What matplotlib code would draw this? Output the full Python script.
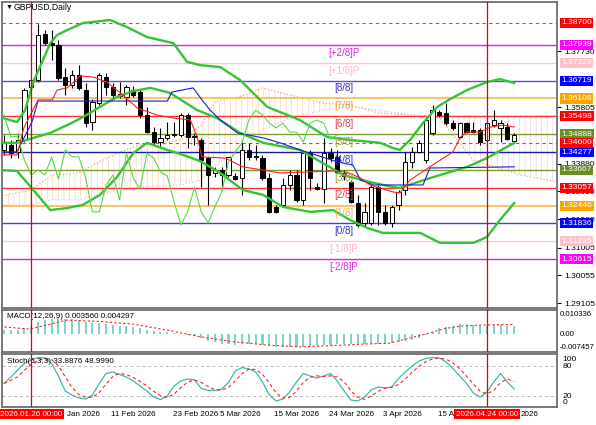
import numpy as np
import pandas as pd
import matplotlib
matplotlib.use('Agg')
import matplotlib.pyplot as plt

plt.rcParams['font.family'] = ['Liberation Sans', 'DejaVu Sans']
plt.rcParams['hatch.linewidth'] = 0.5

# ---------------- price data (daily bars) ----------------
opens = [1.3435, 1.3452, 1.3428, 1.3469, 1.3650, 1.3674, 1.3831, 1.3800, 1.3794, 1.3684,
         1.3657, 1.3691, 1.3640, 1.3530, 1.3595, 1.3684, 1.3650, 1.3626, 1.3616, 1.3640,
         1.3633, 1.3554, 1.3496, 1.3462, 1.3476, 1.3486, 1.3486, 1.3554, 1.3479, 1.3469,
         1.3407, 1.3356, 1.3366, 1.3349, 1.3346, 1.3339, 1.3435, 1.3414, 1.3407, 1.3339,
         1.3240, 1.3247, 1.3315, 1.3349, 1.3264, 1.3424, 1.3308, 1.3301, 1.3424, 1.3411,
         1.3356, 1.3325, 1.3253, 1.3185, 1.3185, 1.3308, 1.3223, 1.3185, 1.3247, 1.3298,
         1.3394, 1.3428, 1.3400, 1.3493, 1.3565, 1.3561, 1.3527, 1.3479, 1.3527, 1.3503,
         1.3503, 1.3469, 1.3520, 1.3510, 1.3513, 1.3465]
highs = [1.3486, 1.3469, 1.3486, 1.3647, 1.3681, 1.3866, 1.3845, 1.3845, 1.3811, 1.3715,
         1.3708, 1.3725, 1.3664, 1.3609, 1.3698, 1.3698, 1.3664, 1.3667, 1.3657, 1.3653,
         1.3640, 1.3582, 1.3513, 1.3510, 1.3530, 1.3530, 1.3561, 1.3561, 1.3493, 1.3476,
         1.3411, 1.3377, 1.3377, 1.3411, 1.3356, 1.3462, 1.3459, 1.3452, 1.3418, 1.3356,
         1.3247, 1.3339, 1.3366, 1.3366, 1.3428, 1.3435, 1.3322, 1.3476, 1.3441, 1.3435,
         1.3366, 1.3332, 1.3281, 1.3253, 1.3315, 1.3315, 1.3247, 1.3247, 1.3298, 1.3428,
         1.3445, 1.3469, 1.3547, 1.3588, 1.3571, 1.3595, 1.3537, 1.3530, 1.3530, 1.3530,
         1.3510, 1.3530, 1.3571, 1.3537, 1.3527, 1.3493]
lows = [1.3418, 1.3407, 1.3407, 1.3462, 1.3647, 1.3667, 1.3794, 1.3742, 1.3674, 1.3623,
        1.3647, 1.3640, 1.3513, 1.3503, 1.3588, 1.3623, 1.3612, 1.3612, 1.3588, 1.3616,
        1.3544, 1.3493, 1.3452, 1.3445, 1.3469, 1.3479, 1.3479, 1.3441, 1.3452, 1.3308,
        1.3247, 1.3342, 1.3298, 1.3342, 1.3332, 1.3281, 1.3400, 1.3400, 1.3332, 1.3219,
        1.3219, 1.3240, 1.3298, 1.3257, 1.3247, 1.3298, 1.3298, 1.3253, 1.3394, 1.3356,
        1.3332, 1.3253, 1.3171, 1.3171, 1.3178, 1.3178, 1.3178, 1.3171, 1.3229, 1.3281,
        1.3373, 1.3424, 1.3390, 1.3486, 1.3547, 1.3520, 1.3503, 1.3476, 1.3493, 1.3493,
        1.3452, 1.3462, 1.3513, 1.3462, 1.3469, 1.3459]
closes = [1.3459, 1.3424, 1.3469, 1.3640, 1.3674, 1.3828, 1.3800, 1.3794, 1.3681, 1.3657,
          1.3691, 1.3647, 1.3527, 1.3599, 1.3691, 1.3650, 1.3623, 1.3619, 1.3650, 1.3623,
          1.3554, 1.3496, 1.3462, 1.3476, 1.3486, 1.3489, 1.3554, 1.3479, 1.3482, 1.3400,
          1.3349, 1.3366, 1.3349, 1.3411, 1.3335, 1.3435, 1.3411, 1.3411, 1.3339, 1.3223,
          1.3223, 1.3315, 1.3349, 1.3264, 1.3424, 1.3339, 1.3301, 1.3424, 1.3407, 1.3359,
          1.3346, 1.3257, 1.3178, 1.3223, 1.3308, 1.3223, 1.3185, 1.3240, 1.3291, 1.3394,
          1.3428, 1.3459, 1.3537, 1.3571, 1.3554, 1.3527, 1.3510, 1.3527, 1.3496, 1.3496,
          1.3462, 1.3527, 1.3537, 1.3527, 1.3472, 1.3486]

# Bollinger bands (bar position, price)
bb_up_bars = [-0.6, 1.9, 3.1, 4.3, 6.8, 7.8, 9.3, 11.6, 15.6, 18.1, 21.0, 24.9, 26.9, 28.8, 31.8,
              34.7, 38.7, 43.5, 47.5, 50.9, 55.3, 57.2, 58.2, 59.7, 61.6, 63.7, 65.6, 68.1, 71.0, 72.9, 75.0]
bb_up = [1.3547, 1.3530, 1.3571, 1.3667, 1.3800, 1.3828, 1.3845, 1.3869, 1.3879, 1.3855, 1.3821,
         1.3800, 1.3736, 1.3725, 1.3718, 1.3674, 1.3582, 1.3537, 1.3479, 1.3469, 1.3459, 1.3441,
         1.3435, 1.3469, 1.3527, 1.3582, 1.3609, 1.3640, 1.3667, 1.3677, 1.3664]
bb_mid_bars = [-0.6, 1.9, 4.3, 6.8, 9.3, 11.6, 14.1, 16.6, 19.0, 21.5, 24.4, 28.4, 31.3, 34.7,
               38.1, 43.5, 49.9, 53.8, 57.2, 58.2, 63.1, 68.1, 71.0, 75.0]
bb_mid = [1.3459, 1.3459, 1.3476, 1.3493, 1.3520, 1.3547, 1.3582, 1.3616, 1.3636, 1.3647, 1.3630,
          1.3571, 1.3544, 1.3493, 1.3459, 1.3435, 1.3349, 1.3325, 1.3308, 1.3305, 1.3342, 1.3377,
          1.3407, 1.3459]
bb_lo_bars = [-0.6, 1.9, 4.3, 6.8, 9.3, 11.6, 14.1, 16.6, 19.0, 21.0, 24.0, 26.3, 28.8, 31.8,
              35.1, 38.1, 41.0, 45.0, 48.4, 50.9, 53.4, 55.7, 61.2, 64.1, 69.0, 71.0, 72.9, 75.0]
bb_lo = [1.3366, 1.3363, 1.3298, 1.3229, 1.3236, 1.3247, 1.3281, 1.3342, 1.3424, 1.3459, 1.3435,
         1.3418, 1.3397, 1.3356, 1.3298, 1.3281, 1.3240, 1.3223, 1.3229, 1.3195, 1.3168, 1.3151,
         1.3151, 1.3117, 1.3117, 1.3137, 1.3195, 1.3253]

# Ichimoku lines (bar position, price)
tenkan_bars = [-0.6, 1.9, 2.9, 5.0, 7.1, 7.8, 9.3, 11.2, 13.1, 15.1, 17.1, 19.6, 22.5, 24.9, 27.4,
               28.4, 29.1, 32.5, 35.1, 38.1, 40.6, 48.4, 50.4, 52.4, 53.8, 57.2, 58.2, 59.7, 62.6,
               66.0, 67.1, 68.1, 70.0, 71.5, 73.4, 75.0]
tenkan = [1.3418, 1.3418, 1.3510, 1.3606, 1.3606, 1.3640, 1.3647, 1.3688, 1.3684, 1.3667, 1.3630,
          1.3578, 1.3554, 1.3544, 1.3537, 1.3479, 1.3411, 1.3407, 1.3377, 1.3366, 1.3356, 1.3363,
          1.3359, 1.3339, 1.3315, 1.3291, 1.3288, 1.3332, 1.3377, 1.3428, 1.3479, 1.3496, 1.3496,
          1.3513, 1.3520, 1.3513]
kijun_bars = [-0.6, 1.9, 4.1, 5.0, 24.0, 24.7, 27.8, 29.1, 30.3, 31.8, 33.2, 34.3, 38.1, 40.6,
              43.5, 49.0, 51.3, 52.4, 54.3, 61.6, 62.6, 75.0]
kijun = [1.3428, 1.3428, 1.3530, 1.3602, 1.3602, 1.3633, 1.3647, 1.3606, 1.3571, 1.3537, 1.3513,
         1.3493, 1.3476, 1.3459, 1.3435, 1.3394, 1.3383, 1.3332, 1.3315, 1.3315, 1.3373, 1.3377]
cloud_bars = [-1, 4, 7, 11, 14, 17, 20, 26, 29, 31, 35, 38, 42, 47, 51, 55, 60, 64, 69, 72, 76, 82]
span_a = [1.3274, 1.3298, 1.3349, 1.3356, 1.3394, 1.3428, 1.3452, 1.3469, 1.3520, 1.3599, 1.3619,
          1.3647, 1.3623, 1.3595, 1.3588, 1.3561, 1.3554, 1.3544, 1.3400, 1.3377, 1.3349, 1.3322]
span_b = [1.3247, 1.3247, 1.3264, 1.3264, 1.3281, 1.3298, 1.3308, 1.3315, 1.3332, 1.3383, 1.3435,
          1.3503, 1.3544, 1.3571, 1.3582, 1.3571, 1.3554, 1.3551, 1.3551, 1.3551, 1.3551, 1.3551]

# Murrey math levels
murrey_levels = [1.37939, 1.37329, 1.36719, 1.36108, 1.35498, 1.34888, 1.34277,
                 1.33667, 1.33057, 1.32446, 1.31836, 1.31225, 1.30615]
murrey_names = ['[+2/8]P', '[+1/8]P', '[8/8]', '[7/8]', '[6/8]', '[5/8]', '[4/8]',
                '[3/8]', '[2/8]', '[1/8]', '[0/8]', '[-1/8]P', '[-2/8]P']
murrey_line_col = ['#e020e0', '#ffc8d0', '#5050d8', '#ffbb55', '#ff3333', '#7f9a30', '#1a1aa8',
                   '#7f9a30', '#ff3333', '#ffbb55', '#4040d8', '#ffc8d0', '#e020e0']
murrey_text_col = ['#e020e0', '#ffb6c6', '#3030d0', '#f0a030', '#e04040', '#a0a040', '#3030d0',
                   '#a0a040', '#e04040', '#f0b040', '#3030d0', '#ffb6c6', '#e020e0']
murrey_box_col = ['#ff00ff', '#ffc0cb', '#0000ff', '#ffa500', '#ff0000', '#6b8e23', '#0000ff',
                  '#6b8e23', '#ff0000', '#ffa500', '#0000ff', '#ffc0cb', '#ff00ff']
red_dashed = [1.38700, 1.34600]
price_ticks = [1.37730, 1.35805, 1.33880, 1.32930, 1.31980, 1.31005, 1.30055, 1.29105]

# MACD histogram and signal
macd = [0.0018, 0.0017, 0.0017, 0.0026, 0.0036, 0.0055, 0.0064, 0.0069, 0.0070, 0.0068,
        0.0066, 0.0062, 0.0052, 0.0049, 0.0049, 0.0046, 0.0041, 0.0037, 0.0034, 0.0031,
        0.0025, 0.0019, 0.0013, 0.0010, 0.0007, 0.0004, 0.0001, -0.0004, -0.0010, -0.0019,
        -0.0031, -0.0037, -0.0043, -0.0046, -0.0049, -0.0046, -0.0044, -0.0044, -0.0047, -0.0053,
        -0.0058, -0.0059, -0.0058, -0.0056, -0.0056, -0.0053, -0.0052, -0.0049, -0.0049, -0.0046,
        -0.0044, -0.0044, -0.0046, -0.0046, -0.0046, -0.0044, -0.0043, -0.0040, -0.0037, -0.0033,
        -0.0026, -0.0016, -0.0004, 0.0011, 0.0025, 0.0033, 0.0037, 0.0043, 0.0043, 0.0040,
        0.0036, 0.0034, 0.0040, 0.0039, 0.0037, 0.0036]
signal_bars = [-0.6, 3.8, 9.2, 14.1, 19.0, 23.9, 28.8, 33.7, 38.6, 43.5, 47.8, 52.7, 56.6,
               61.5, 64.9, 67.4, 70.4, 75.0]
signal = [0.0033, 0.0022, 0.0062, 0.0056, 0.0044, 0.0018, -0.0012, -0.0034, -0.0049, -0.0057,
          -0.0052, -0.0045, -0.0041, -0.0004, 0.0025, 0.0036, 0.0040, 0.0043]

# Stochastic %K
stoch_k = [45, 58, 72, 85, 92, 97, 96, 85, 60, 30, 22, 16, 14, 22, 45, 65, 68, 63, 58, 50,
           40, 30, 18, 13, 20, 40, 50, 54, 52, 35, 31, 31, 34, 47, 70, 77, 74, 68, 48, 22,
           10, 14, 28, 48, 65, 60, 56, 60, 65, 50, 30, 12, 10, 18, 32, 38, 36, 38, 55, 68,
           80, 90, 95, 97, 96, 88, 75, 60, 45, 26, 18, 28, 48, 65, 48, 34]

# time axis
time_label_bars = [9.3, 15.7, 24.8, 31.8, 39.7, 47.8, 55.7, 63.8, 76.0]
time_labels = ['Jan 2026', '11 Feb 2026', '23 Feb 2026', '5 Mar 2026', '15 Mar 2026',
               '24 Mar 2026', '3 Apr 2026', '15 A', '2026']
marker_bars = [4, 71]
marker_labels = ['2026.01.26 00:00', '2026.04.24 00:00']

# ---------------- figure layout ----------------
W, H = 596, 425
fig = plt.figure(figsize=(W / 100, H / 100), dpi=100)
fig.patch.set_facecolor('white')


def panel(l, t, r, b):
    a = fig.add_axes([l / W, 1 - b / H, (r - l) / W, (b - t) / H])
    for s in a.spines.values():
        s.set_color('#6e6e6e')
        s.set_linewidth(1.3)
    a.set_xlim(-0.3, 81.3)
    a.set_xticks([])
    return a


ax = panel(2, 2, 557, 308)
axm = panel(2, 310, 557, 352)
axs = panel(2, 354, 557, 407)

o = np.array(opens); h = np.array(highs); l = np.array(lows); c = np.array(closes)
x = np.arange(len(c))

# cloud
cb = np.array(cloud_bars, float); sa = np.array(span_a); sb = np.array(span_b)
ax.fill_between(cb, sa, sb, where=sa >= sb, interpolate=True, facecolor='none',
                edgecolor='#f4a460', hatch='|||', linewidth=0, alpha=0.5, zorder=1)
ax.fill_between(cb, sa, sb, where=sa < sb, interpolate=True, facecolor='none',
                edgecolor='#e0b0d8', hatch='|||', linewidth=0, alpha=0.6, zorder=1)
ax.plot(cb, sa, color='#f4a460', ls=':', lw=0.9, zorder=1.2)
ax.plot(cb, sb, color='#d8bfd8', ls=':', lw=0.9, zorder=1.2)

# Murrey lines and labels
for lev, name, lc, tc in zip(murrey_levels, murrey_names, murrey_line_col, murrey_text_col):
    lw = 1.3 if lc == '#ffbb55' else 1.0
    ax.axhline(lev, color=lc, lw=lw, zorder=2)
    ax.annotate(name, (50, lev), xytext=(0, -2), textcoords='offset points',
                ha='center', va='top', fontsize=7, color=tc, zorder=6)
for lev in red_dashed:
    ax.axhline(lev, color='#ff3030', lw=0.8, ls=(0, (3, 3)), zorder=2)

# candles
ax.vlines(x, l, h, color='black', lw=0.8, zorder=3)
body_lo = np.minimum(o, c)
body_h = np.maximum(np.abs(c - o), 0.00005)
colors = np.where(c >= o, 'white', 'black')
ax.bar(x, body_h, bottom=body_lo, width=0.62, color=colors, edgecolor='black', lw=0.7, zorder=4)

# indicator lines
ax.plot(bb_up_bars, bb_up, color='#33c433', lw=1.7, zorder=5)
ax.plot(bb_mid_bars, bb_mid, color='#33c433', lw=1.7, zorder=5)
ax.plot(bb_lo_bars, bb_lo, color='#33c433', lw=1.7, zorder=5)
ax.plot(kijun_bars, kijun, color='#1a1ae0', lw=0.8, zorder=5)
ax.plot(tenkan_bars, tenkan, color='#ff2020', lw=0.8, zorder=5)
chikou = pd.Series(c).shift(-26)
ax.plot(x, chikou, color='#5ad84a', lw=0.8, zorder=5)

ax.set_ylim(1.28942, 1.39408)
ax.yaxis.tick_right()
ax.set_yticks(price_ticks)
ax.set_yticklabels([f'{v:.5f}' for v in price_ticks])
ax.tick_params(axis='y', labelsize=6.1, length=3, pad=2, colors='black')

ytr = ax.get_yaxis_transform()
for lev, bc in zip(murrey_levels, murrey_box_col):
    ax.text(1.0075, lev, f'{lev:.5f}', transform=ytr, ha='left', va='center', fontsize=6.1,
            color='white', clip_on=False, zorder=10,
            bbox=dict(boxstyle='square,pad=0.18', fc=bc, ec='none'))
for lev in red_dashed:
    ax.text(1.0075, lev, f'{lev:.5f}', transform=ytr, ha='left', va='center', fontsize=6.1,
            color='white', clip_on=False, zorder=10,
            bbox=dict(boxstyle='square,pad=0.18', fc='#ff0000', ec='none'))

# MACD panel
axm.bar(x, macd, width=0.3, color='#7fd3ca', zorder=2)
axm.plot(signal_bars, signal, color='#ff2020', lw=0.8, ls=(0, (2, 2)), zorder=3)
axm.set_ylim(-0.0080, 0.0107)
axm.set_yticks([])
mtr = axm.get_yaxis_transform()
axm.text(1.005, 0.010336, '0.010336', transform=mtr, fontsize=5.6, va='top', clip_on=False)
axm.text(1.005, 0.0, '0.00', transform=mtr, fontsize=5.6, va='center', clip_on=False)
axm.text(1.005, -0.007457, '-0.007457', transform=mtr, fontsize=5.6, va='bottom', clip_on=False)
axm.text(0.009, 0.93, 'MACD(12,26,9) 0.003560 0.004297', transform=axm.transAxes,
         fontsize=5.8, va='top', zorder=6)

# Stochastic panel
k = pd.Series(stoch_k, dtype=float)
d = k.rolling(3, min_periods=1).mean()
axs.axhline(80, color='#b8b8b8', lw=0.7, ls=(0, (3, 3)))
axs.axhline(20, color='#b8b8b8', lw=0.7, ls=(0, (3, 3)))
axs.plot(x, k, color='#3cb8ae', lw=0.9, zorder=3)
axs.plot(x, d, color='#ff2020', lw=0.8, ls=(0, (3, 2.5)), zorder=3)
axs.set_ylim(-2, 104)
axs.set_yticks([])
st = axs.get_yaxis_transform()
axs.text(1.01, 100, '100', transform=st, fontsize=6.1, va='top', clip_on=False)
axs.text(1.01, 80, '80', transform=st, fontsize=6.1, va='center', clip_on=False)
axs.text(1.01, 20, '20', transform=st, fontsize=6.1, va='center', clip_on=False)
axs.text(1.01, 0, '0', transform=st, fontsize=6.1, va='bottom', clip_on=False)
axs.text(0.009, 0.93, 'Stoch(5,3,3) 33.8876 48.9990', transform=axs.transAxes,
         fontsize=5.8, va='top', zorder=6)

# vertical marker lines
for a in (ax, axm, axs):
    for mb in marker_bars:
        a.axvline(mb, color='#e00000', lw=0.9, zorder=7)

# time axis
xtr = axs.get_xaxis_transform()
for tb, tl in zip(time_label_bars, time_labels):
    axs.text(tb, -0.135, tl, transform=xtr, fontsize=5.8, ha='left', va='center', clip_on=False)
for mb, ml in zip(marker_bars, marker_labels):
    axs.text(mb, -0.135, ml, transform=xtr, fontsize=5.8, ha='center', va='center', color='white',
             clip_on=False, zorder=10, bbox=dict(boxstyle='square,pad=0.2', fc='#ff0000', ec='none'))

# title
fig.text(6 / W, 1 - 7 / H, '\u25bc', fontsize=5, va='center', ha='left')
fig.text(14 / W, 1 - 7 / H, 'GBPUSD,Daily', fontsize=6.2, va='center', ha='left')

fig.savefig('out.png', dpi=100, facecolor='white')
